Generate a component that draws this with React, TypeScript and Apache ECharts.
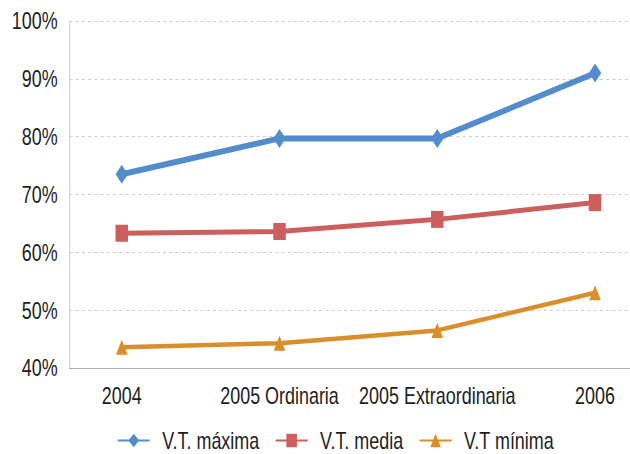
import React, { useEffect, useRef } from "react";
import * as echarts from "echarts";

const categories = ["2004", "2005 Ordinaria", "2005 Extraordinaria", "2006"];
const seriesNames = ["V.T. máxima", "V.T. media", "V.T mínima"];
const maxima = [73.5, 79.7, 79.7, 91.0];
const media = [63.3, 63.6, 65.7, 68.6];
const minima = [43.6, 44.3, 46.5, 53.0];
const yTicks = [40, 50, 60, 70, 80, 90, 100];

const FONT = "'Liberation Sans', Arial, sans-serif";
const TEXT = "#1e1e1e";
const K = 0.78; // horizontal compression of the whole picture
const W = 880; // inner (uncompressed) drawing width, wider than the visible area
const H = 454;

export default function App() {
  const ref = useRef<HTMLDivElement>(null);
  useEffect(() => {
    if (!ref.current) return;
    const chart = echarts.init(ref.current, undefined, { renderer: "svg" });
    const yMin = yTicks[0];
    const yMax = yTicks[yTicks.length - 1];
    const mk = (name: string, data: number[], color: string, symbol: string, size: any, width: number) => ({
      name,
      type: "line",
      xAxisIndex: 1,
      yAxisIndex: 1,
      data,
      symbol,
      symbolSize: size,
      showSymbol: true,
      lineStyle: { color, width },
      itemStyle: { color },
      emphasis: { disabled: true },
    });
    chart.setOption({
      animation: false,
      textStyle: { fontFamily: FONT },
      grid: [
        { left: 89, width: 719, top: 21, bottom: 86 },
        { left: 55, width: 809, top: 21, bottom: 86 },
      ],
      xAxis: [
        {
          gridIndex: 0,
          type: "category",
          data: categories,
          axisLine: { show: true, lineStyle: { color: "#a6a6a6", width: 1 } },
          axisTick: { show: false },
          axisLabel: { show: false },
          splitLine: { show: false },
        },
        {
          gridIndex: 1,
          type: "category",
          data: categories,
          boundaryGap: true,
          axisLine: { show: false },
          axisTick: { show: false },
          axisLabel: { show: true, interval: 0, color: TEXT, fontSize: 23, fontFamily: FONT, margin: 16 },
          splitLine: { show: false },
        },
      ],
      yAxis: [
        {
          gridIndex: 0,
          type: "value",
          min: yMin,
          max: yMax,
          interval: 10,
          axisLine: { show: true, lineStyle: { color: "#c8c8c8", width: 1 } },
          axisTick: { show: false },
          axisLabel: { color: TEXT, fontSize: 23, fontFamily: FONT, margin: 15, formatter: "{value}%" },
          splitLine: { show: true, lineStyle: { color: "#c8c8c8", type: [4, 4], width: 1 } },
        },
        {
          gridIndex: 1,
          type: "value",
          min: yMin,
          max: yMax,
          show: false,
        },
      ],
      legend: {
        left: 145,
        top: 424,
        itemWidth: 41,
        itemHeight: 17,
        itemGap: 20,
        textStyle: { color: TEXT, fontSize: 23, fontFamily: FONT, padding: [0, 0, 0, 11] },
        data: seriesNames,
      },
      series: [
        mk(seriesNames[0], maxima, "#538ccc", "diamond", [16, 19], 6),
        mk(seriesNames[1], media, "#cc5f5d", "rect", [16, 17], 5),
        mk(seriesNames[2], minima, "#d98e2a", "triangle", [15, 15], 4.5),
      ],
    });
    return () => chart.dispose();
  }, []);
  return (
    <div style={{ position: "absolute", left: 0, top: 0, width: 630, height: H, overflow: "hidden" }}>
      <div
        ref={ref}
        style={{ width: W, height: H, transform: `scaleX(${K})`, transformOrigin: "0 0" }}
      />
    </div>
  );
}
